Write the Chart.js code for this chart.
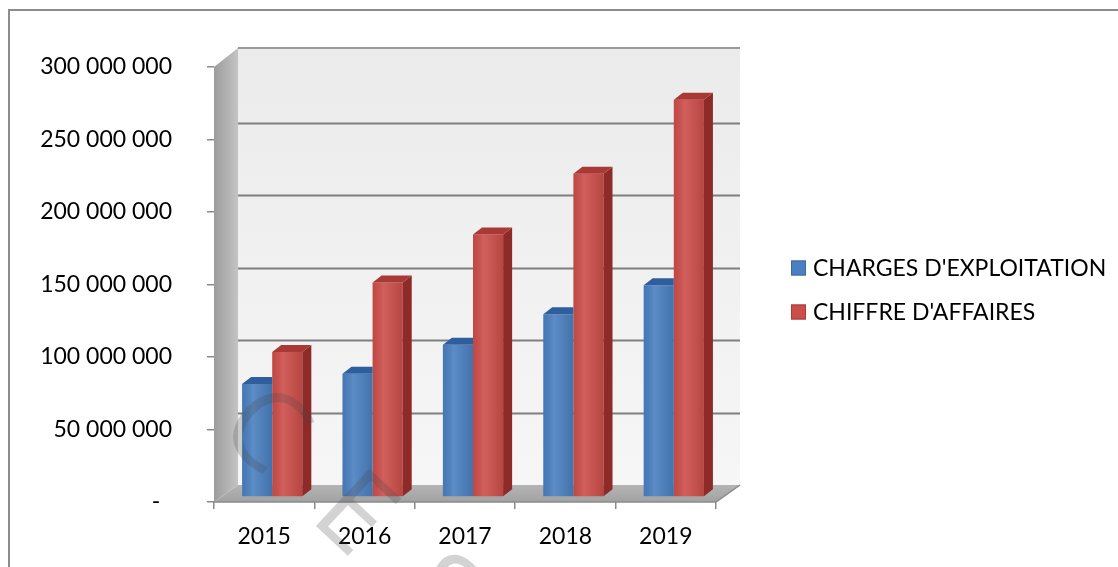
<!DOCTYPE html>
<html>
<head>
<meta charset="utf-8">
<script src="https://cdn.jsdelivr.net/npm/chart.js@4.4.1/dist/chart.umd.min.js"></script>
<style>
    html, body { margin: 0; padding: 0; background: #fff; }
    #wrap { width: 1118px; height: 567px; position: relative; }
</style>
</head>
<body>
<div id="wrap"><canvas id="chart"></canvas></div>
<script>
// Data - START
const YEARS = ['2015', '2016', '2017', '2018', '2019'];
const CHARGES = [78000000, 85000000, 105000000, 126000000, 146000000];
const CHIFFRE = [100000000, 148000000, 181000000, 223000000, 274000000];
const SERIES_LABELS = ["CHARGES D'EXPLOITATION", "CHIFFRE D'AFFAIRES"];
const Y_MIN = 0;
const Y_MAX = 300000000;
const Y_STEP = 50000000;
const WATERMARK = 'CESAG';
// Data - END

// 3d look
const WALL_DX = 24, WALL_DY = -17;
const BAR_DX = 8, BAR_DY = -5;
const DEPTH_X = 9, DEPTH_Y = -7;
const FONT = 'Lato';

let fmt = (v) => {
    if (v === 0) return '-  ';
    return String(v).replace(/\B(?=(\d{3})+(?!\d))/g, ' ');
};

let poly = (ctx, pts, fill) => {
    ctx.beginPath();
    ctx.moveTo(pts[0][0], pts[0][1]);
    for (let i = 1; i < pts.length; i++) ctx.lineTo(pts[i][0], pts[i][1]);
    ctx.closePath();
    ctx.fillStyle = fill;
    ctx.fill();
};

const scene3d = {
    id: 'scene3d',
    beforeDraw(chart) {
        let ctx = chart.ctx;
        let a = chart.chartArea;
        let ys = chart.scales.y;
        ctx.save();
        ctx.fillStyle = '#fff';
        ctx.fillRect(0, 0, chart.width, chart.height);

        // frame, only top and left show
        ctx.strokeStyle = '#8c8c8c';
        ctx.lineWidth = 2;
        ctx.beginPath();
        ctx.moveTo(9, chart.height);
        ctx.lineTo(9, 10);
        ctx.lineTo(chart.width, 10);
        ctx.stroke();

        // back wall
        let bl = a.left + WALL_DX, br = a.right + WALL_DX;
        let bt = a.top + WALL_DY - 2, bb = a.bottom + WALL_DY;
        let g = ctx.createLinearGradient(0, bt, 0, bb);
        g.addColorStop(0, '#ebebeb');
        g.addColorStop(1, '#f6f6f6');
        ctx.fillStyle = g;
        ctx.fillRect(bl, bt, br - bl, bb - bt);

        ctx.strokeStyle = '#7f7f7f';
        ctx.lineWidth = 2;
        ys.ticks.forEach((t) => {
            if (t.value <= Y_MIN || t.value >= Y_MAX) return;
            let py = Math.round(ys.getPixelForValue(t.value) + WALL_DY) + 0.5;
            ctx.beginPath();
            ctx.moveTo(bl, py);
            ctx.lineTo(br, py);
            ctx.stroke();
        });
        ctx.strokeStyle = '#9a9a9a';
        ctx.beginPath();
        ctx.moveTo(bl, bt);
        ctx.lineTo(br, bt);
        ctx.stroke();

        // side wall
        let sg = ctx.createLinearGradient(a.left, 0, bl, 0);
        sg.addColorStop(0, '#9c9c9c');
        sg.addColorStop(1, '#c4c4c4');
        poly(ctx, [[a.left, a.top], [bl, bt], [bl, bb], [a.left, a.bottom]], sg);

        // floor
        let fg = ctx.createLinearGradient(0, bb, 0, a.bottom);
        fg.addColorStop(0, '#b4b4b4');
        fg.addColorStop(1, '#a2a2a2');
        poly(ctx, [[a.left, a.bottom], [a.right, a.bottom], [br, bb], [bl, bb]], fg);
        ctx.strokeStyle = '#8a8a8a';
        ctx.lineWidth = 1.5;
        ctx.beginPath();
        ctx.moveTo(a.left, a.bottom);
        ctx.lineTo(a.right, a.bottom);
        ctx.lineTo(br, bb);
        ctx.stroke();
        ctx.restore();
    },
    beforeDatasetsDraw(chart) {
        chart.ctx.save();
        chart.ctx.translate(BAR_DX, BAR_DY);
    },
    afterDatasetsDraw(chart) {
        let ctx = chart.ctx;
        let m0 = chart.getDatasetMeta(0);
        let m1 = chart.getDatasetMeta(1);
        let shade = (p) => {
            let l = p.x - p.width / 2;
            let gr = ctx.createLinearGradient(l, 0, l + p.width, 0);
            gr.addColorStop(0, 'rgba(0,0,0,0.06)');
            gr.addColorStop(0.35, 'rgba(255,255,255,0.10)');
            gr.addColorStop(1, 'rgba(0,0,0,0.10)');
            ctx.fillStyle = gr;
            ctx.fillRect(l, p.y, p.width, p.base - p.y);
        };
        YEARS.forEach((_, i) => {
            let b = m0.data[i].getProps(['x', 'y', 'base', 'width'], true);
            let r = m1.data[i].getProps(['x', 'y', 'base', 'width'], true);
            shade(b);
            shade(r);
            let bl = b.x - b.width / 2, bR = b.x + b.width / 2;
            poly(ctx, [[bl, b.y], [bR, b.y], [bR, b.y + DEPTH_Y], [bl + DEPTH_X, b.y + DEPTH_Y]], '#2e5e9e');
            let rl = r.x - r.width / 2, rR = r.x + r.width / 2;
            poly(ctx, [[rR, r.y], [rR + DEPTH_X, r.y + DEPTH_Y], [rR + DEPTH_X, r.base + DEPTH_Y], [rR, r.base]], '#8e2a27');
            poly(ctx, [[rl, r.y], [rR, r.y], [rR + DEPTH_X, r.y + DEPTH_Y], [rl + DEPTH_X, r.y + DEPTH_Y]], '#a83936');
        });
        ctx.restore();
    },
    afterDraw(chart) {
        let ctx = chart.ctx;
        // legend
        ctx.save();
        ctx.font = '23px ' + FONT;
        ctx.textBaseline = 'middle';
        ctx.textAlign = 'left';
        let rows = [268, 312];
        chart.data.datasets.forEach((ds, i) => {
            ctx.fillStyle = ds.backgroundColor;
            ctx.fillRect(791, rows[i] - 7.5, 15, 15);
            ctx.strokeStyle = ds.borderLegend;
            ctx.lineWidth = 1;
            ctx.strokeRect(791.5, rows[i] - 7, 14, 14);
            ctx.fillStyle = '#000';
            ctx.fillText(ds.label, 813, rows[i] + 1);
        });
        ctx.restore();

        // watermark
        ctx.save();
        ctx.translate(215, 432);
        ctx.rotate(43 * Math.PI / 180);
        ctx.font = '110px "Open Sans"';
        ctx.letterSpacing = '58px';
        ctx.fillStyle = 'rgba(70,70,70,0.24)';
        ctx.fillText(WATERMARK, 0, 0);
        ctx.restore();
    }
};

Chart.defaults.font.family = FONT;
Chart.defaults.font.size = 23;
Chart.defaults.color = '#000';

let ctx = document.getElementById('chart');
let data = {
    labels: YEARS,
    datasets: [{
        label: SERIES_LABELS[0],
        data: CHARGES,
        backgroundColor: '#4a7fc0',
        borderLegend: '#3a6aa5',
        clip: false
    }, {
        label: SERIES_LABELS[1],
        data: CHIFFRE,
        backgroundColor: '#cc4d49',
        borderLegend: '#a33d3a',
        clip: false
    }]
};
let config = {
    type: 'bar',
    data: data,
    options: {
        responsive: true,
        maintainAspectRatio: false,
        animation: false,
        layout: { padding: { left: 0, top: 67, right: 402, bottom: 0 } },
        datasets: { bar: { categoryPercentage: 0.6, barPercentage: 1.0 } },
        plugins: { legend: { display: false }, tooltip: { enabled: false } },
        scales: {
            x: {
                grid: { offset: true, drawOnChartArea: false, tickLength: 7, color: '#8a8a8a', lineWidth: 1.5 },
                border: { display: false },
                ticks: { padding: 14 },
                afterFit: (s) => { s.height = 65; }
            },
            y: {
                min: Y_MIN,
                max: Y_MAX,
                grid: { drawOnChartArea: false, tickLength: 7, color: '#8a8a8a', lineWidth: 1.5 },
                border: { display: false },
                ticks: { stepSize: Y_STEP, padding: 35, callback: (v) => fmt(v) },
                afterFit: (s) => { s.width = 214; }
            }
        }
    },
    plugins: [scene3d]
};
let barChart = new Chart(ctx, config);
</script>
</body>
</html>
